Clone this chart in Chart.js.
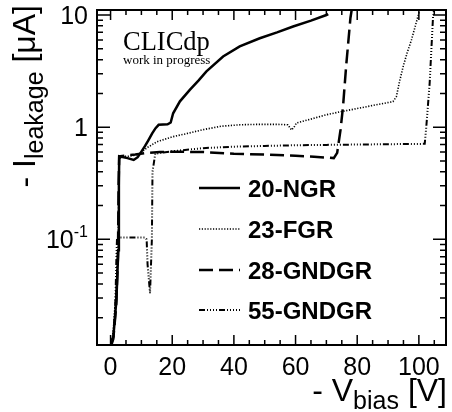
<!DOCTYPE html>
<html><head><meta charset="utf-8">
<script src="https://cdn.jsdelivr.net/npm/chart.js@4"></script>
<style>html,body{margin:0;padding:0;background:#fff;}canvas{display:block;}</style>
</head><body>
<canvas id="c" width="452" height="412"></canvas>
<script>
// ---- data ----
const seriesNames = ["20-NGR", "23-FGR", "28-GNDGR", "55-GNDGR"];

const vNGR20 = [0.3, 0.9, 1.9, 2.5, 2.7, 2.8, 3.5, 5.5, 7.5, 8.8, 10.0, 11.2, 12.2, 13.5, 14.6, 15.6, 18.5, 19.5, 20.3, 22.5, 25.7, 28.5, 31.1, 36.5, 41.9, 48.4, 54.0, 59.2, 65.0, 70.0, 70.6];
const iNGR20 = [0.0125, 0.0135, 0.029, 0.08, 0.3, 0.55, 0.545, 0.53, 0.51, 0.54, 0.606, 0.68, 0.76, 0.88, 0.98, 1.05, 1.06, 1.10, 1.33, 1.70, 2.15, 2.6, 3.14, 4.27, 5.25, 6.2, 7.0, 7.9, 8.9, 10.0, 10.2];

const vFGR23 = [0.5, 1.2, 2.0, 2.5, 2.8, 4, 6, 7.5, 9.5, 12, 15, 20, 25, 30, 36, 42, 48, 54, 57.5, 58.7, 59.5, 60.3, 65, 70, 75, 80.8, 86, 91.6, 92.7, 93.8, 94.9, 96.2, 97.6, 99.7, 100.5];
const iFGR23 = [0.012, 0.02, 0.045, 0.12, 0.52, 0.55, 0.55, 0.56, 0.58, 0.66, 0.74, 0.82, 0.88, 0.95, 1.02, 1.05, 1.06, 1.06, 1.05, 0.945, 1.0, 1.09, 1.18, 1.29, 1.38, 1.48, 1.58, 1.69, 1.87, 2.6, 3.47, 4.6, 6.0, 9.7, 11.5];

const vGNDGR28 = [0.3, 0.9, 1.8, 2.4, 2.6, 2.8, 5, 8, 12, 16, 20, 30, 40, 50, 60, 66, 72.4, 73.5, 74.6, 75.4, 76.4, 77.8, 78.3];
const iGNDGR28 = [0.0115, 0.013, 0.025, 0.07, 0.3, 0.55, 0.56, 0.57, 0.59, 0.60, 0.605, 0.6, 0.58, 0.57, 0.555, 0.545, 0.53, 0.59, 0.95, 1.53, 3.47, 9.4, 11.5];

const vGNDGR55 = [0.3, 1.0, 1.6, 1.9, 2.1, 5, 8, 11.1, 11.7, 12.0, 12.8, 13.4, 13.6, 14.5, 20, 30, 40, 50, 60, 70, 80, 90, 101.9, 102.4, 103.5, 104.6, 105];
const iGNDGR55 = [0.0115, 0.014, 0.03, 0.07, 0.104, 0.104, 0.104, 0.104, 0.1, 0.06, 0.033, 0.1, 0.4, 0.58, 0.61, 0.65, 0.67, 0.68, 0.69, 0.695, 0.70, 0.705, 0.71, 1.0, 2.47, 9.7, 11.5];

const xTickValues = [0, 20, 40, 60, 80, 100];
const xTickLabels = ["0", "20", "40", "60", "80", "100"];
const yTickValues = [10, 1, 0.1];
const yTickLabels = [["10", ""], ["1", ""], ["10", "-1"]];

// ---- styles ----
const styles = [
  {borderWidth: 2.5, borderDash: []},
  {borderWidth: 1.6, borderDash: [1.2, 1.6]},
  {borderWidth: 2.5, borderDash: [14, 6]},
  {borderWidth: 2, borderDash: [6, 2, 1, 2, 1, 2, 1, 2, 1, 2]}
];
const seriesV = [vNGR20, vFGR23, vGNDGR28, vGNDGR55];
const seriesI = [iNGR20, iFGR23, iGNDGR28, iGNDGR55];

const datasets = seriesNames.map((name, k) => ({
  label: name,
  data: seriesV[k].map((v, i) => ({x: v, y: seriesI[k][i]})),
  showLine: true,
  borderColor: '#000',
  backgroundColor: '#000',
  borderWidth: styles[k].borderWidth,
  borderDash: styles[k].borderDash,
  pointRadius: 0,
  tension: 0,
  fill: false
}));

const SANS = '"Liberation Sans", Arial, Helvetica, sans-serif';
const SERIF = '"Liberation Serif", "Times New Roman", serif';

const framePlugin = {
  id: 'rootFrame',
  afterDraw(chart) {
    const {ctx, chartArea: a, scales} = chart;
    const x = scales.x, y = scales.y;
    ctx.save();
    ctx.strokeStyle = '#000';
    ctx.fillStyle = '#000';
    ctx.setLineDash([]);
    // frame
    ctx.lineWidth = 2;
    ctx.strokeRect(a.left, a.top, a.right - a.left, a.bottom - a.top);
    // x ticks
    ctx.lineWidth = 1.5;
    for (let v = 0; v <= x.max; v += 5) {
      const px = x.getPixelForValue(v);
      const len = (v % 20 === 0) ? 10 : 5;
      ctx.beginPath();
      ctx.moveTo(px, a.bottom); ctx.lineTo(px, a.bottom - len);
      ctx.moveTo(px, a.top); ctx.lineTo(px, a.top + len);
      ctx.stroke();
    }
    // y ticks (log)
    for (let d = -3; d <= 1; d++) {
      for (let k = 1; k <= 9; k++) {
        const val = k * Math.pow(10, d);
        if (val < y.min || val > y.max) continue;
        const py = y.getPixelForValue(val);
        const len = (k === 1) ? 13 : 6;
        ctx.beginPath();
        ctx.moveTo(a.left, py); ctx.lineTo(a.left + len, py);
        ctx.moveTo(a.right, py); ctx.lineTo(a.right - len, py);
        ctx.stroke();
      }
    }
    // x tick labels
    ctx.font = '25px ' + SANS;
    ctx.textAlign = 'center';
    ctx.textBaseline = 'alphabetic';
    xTickValues.forEach((v, i) => {
      ctx.fillText(xTickLabels[i], x.getPixelForValue(v), 375);
    });
    // y tick labels
    yTickValues.forEach((v, i) => {
      const py = y.getPixelForValue(v);
      const [base, sup] = yTickLabels[i];
      const right = 88;
      ctx.font = '25px ' + SANS;
      ctx.textAlign = 'left';
      const wb = ctx.measureText(base).width;
      ctx.font = '16px ' + SANS;
      const ws = sup ? ctx.measureText(sup).width : 0;
      const x0 = right - wb - ws;
      ctx.font = '25px ' + SANS;
      ctx.fillText(base, x0, py + 9);
      if (sup) {
        ctx.font = '16px ' + SANS;
        ctx.fillText(sup, x0 + wb, py - 2);
      }
    });
    // x axis title: "- V_bias [V]" right aligned
    {
      const parts = [['- V', 32, 0], ['bias', 25, 8], [' [V]', 32, 0]];
      let total = 0;
      parts.forEach(p => { ctx.font = p[1] + 'px ' + SANS; total += ctx.measureText(p[0]).width; });
      let cx = 447 - total;
      ctx.textAlign = 'left';
      parts.forEach(p => {
        ctx.font = p[1] + 'px ' + SANS;
        ctx.fillText(p[0], cx, 401 + p[2]);
        cx += ctx.measureText(p[0]).width;
      });
    }
    // y axis title: "- I_leakage [μA]" rotated, right aligned at top
    {
      const parts = [['- I', 32, 0], ['leakage', 25, 8], [' [μA]', 32, 0]];
      let total = 0;
      parts.forEach(p => { ctx.font = p[1] + 'px ' + SANS; total += ctx.measureText(p[0]).width; });
      ctx.save();
      ctx.translate(35, 5);
      ctx.rotate(-Math.PI / 2);
      ctx.textAlign = 'left';
      let cx = -total;
      parts.forEach(p => {
        ctx.font = p[1] + 'px ' + SANS;
        ctx.fillText(p[0], cx, p[2]);
        cx += ctx.measureText(p[0]).width;
      });
      ctx.restore();
    }
    // CLICdp label
    ctx.textAlign = 'left';
    ctx.font = '26.5px ' + SERIF;
    ctx.fillText('CLICdp', 123, 50);
    ctx.font = '13px ' + SERIF;
    ctx.fillText('work in progress', 123, 64);
    // legend
    const legRows = [188, 229, 270, 310];
    chart.data.datasets.forEach((ds, i) => {
      const ly = legRows[i];
      ctx.save();
      ctx.lineWidth = ds.borderWidth;
      ctx.setLineDash(ds.borderDash || []);
      ctx.beginPath();
      ctx.moveTo(199, ly); ctx.lineTo(240, ly);
      ctx.stroke();
      ctx.restore();
      ctx.font = 'bold 24px ' + SANS;
      ctx.textAlign = 'left';
      ctx.fillText(ds.label, 248, ly + 8.5);
    });
    ctx.restore();
  }
};

new Chart(document.getElementById('c'), {
  type: 'scatter',
  data: {datasets},
  options: {
    responsive: false,
    devicePixelRatio: 1,
    animation: false,
    layout: {padding: {left: 97, right: 6, top: 10, bottom: 67}},
    plugins: {legend: {display: false}, tooltip: {enabled: false}},
    scales: {
      x: {type: 'linear', min: -4.4, max: 108.8, display: false},
      y: {type: 'logarithmic', min: 0.01143, max: 11.08, display: false}
    }
  },
  plugins: [framePlugin]
});
</script>
</body></html>
